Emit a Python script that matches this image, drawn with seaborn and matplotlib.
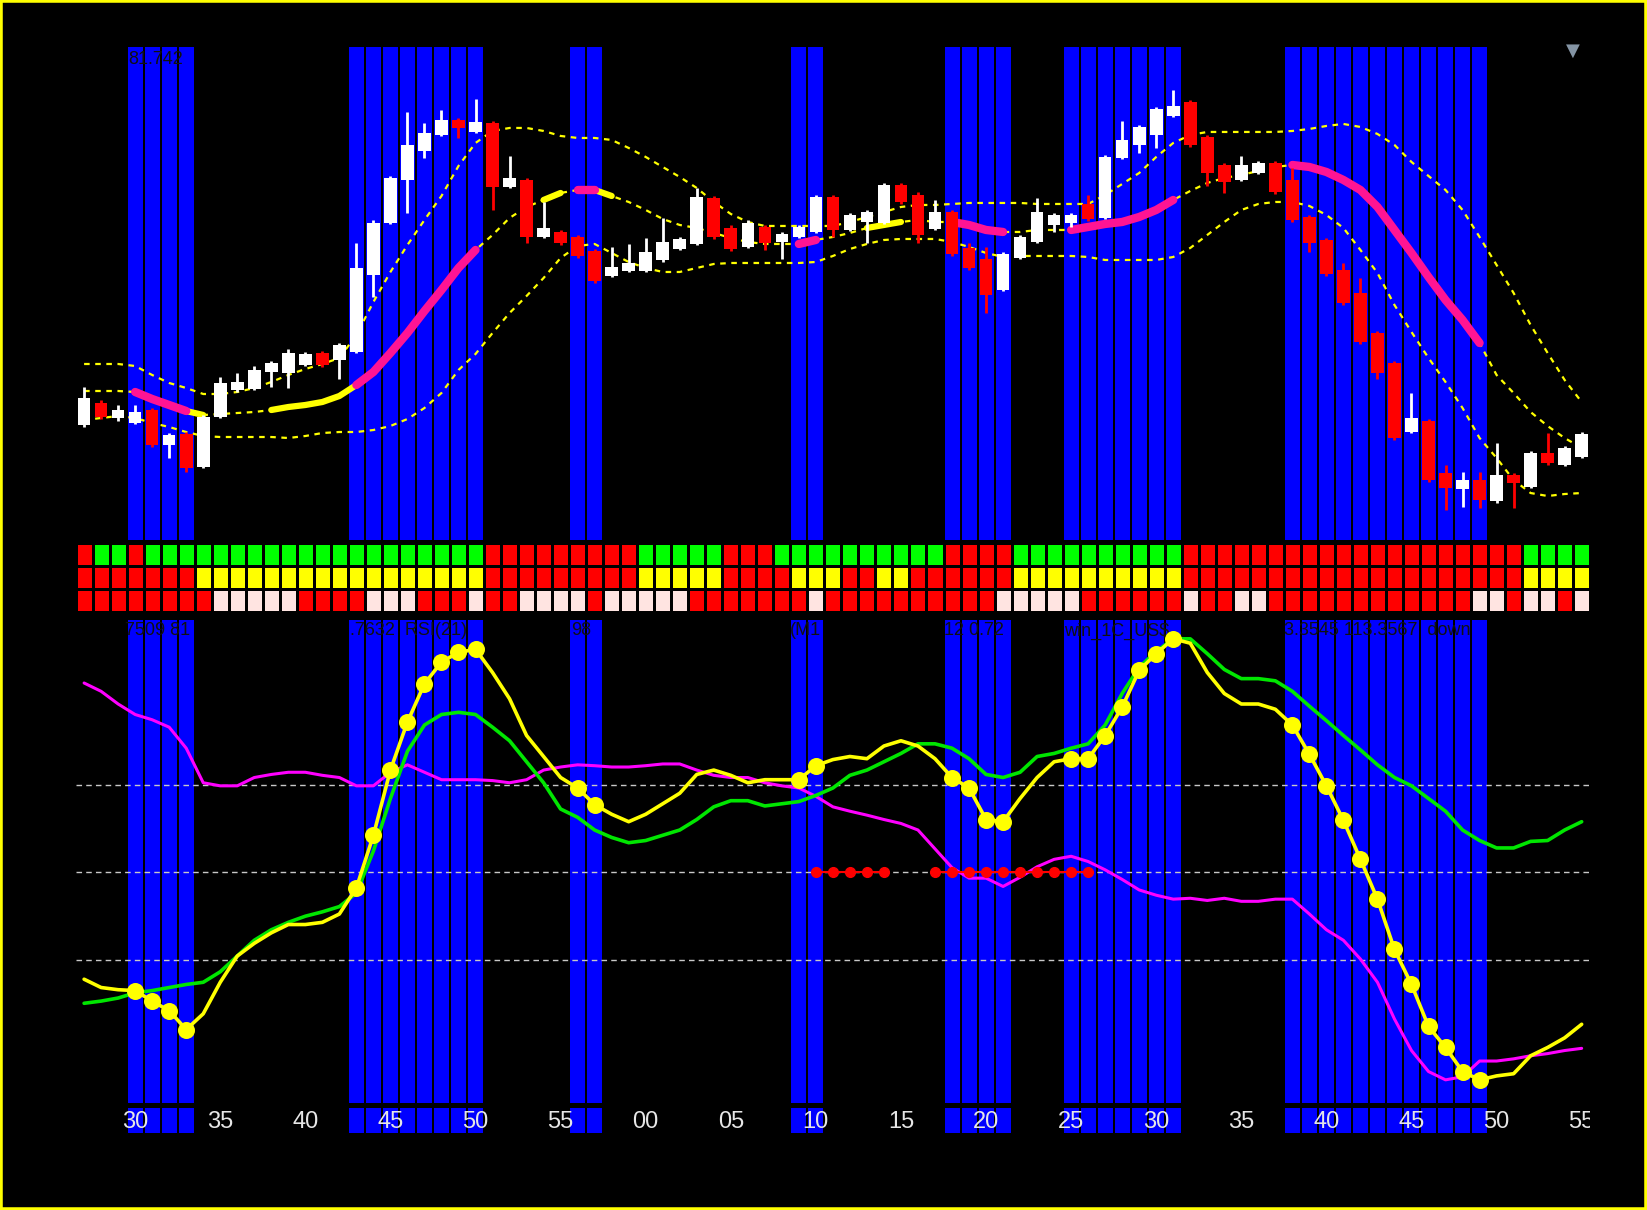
import numpy as np
import pandas as pd
import matplotlib
matplotlib.use("Agg")
import matplotlib.pyplot as plt
from matplotlib.colors import ListedColormap
from matplotlib.patches import Rectangle
import seaborn as sns

sns.set_theme(style="dark")
plt.rcParams["font.family"] = ["Liberation Sans", "DejaVu Sans"]

# ---- M1 bars, :27 to :55 two hours later ----
time_labels = ["30", "35", "40", "45", "50", "55", "00", "05", "10",
               "15", "20", "25", "30", "35", "40", "45", "50", "55"]
label_bars = [3, 8, 13, 18, 23, 28, 33, 38, 43, 48, 53, 58, 63, 68, 73, 78, 83, 88]

open_p = [81.375, 81.397, 81.382, 81.377, 81.390, 81.355, 81.366, 81.333, 81.383, 81.410,
          81.411, 81.428, 81.427, 81.435, 81.447, 81.440, 81.448, 81.525, 81.577, 81.620,
          81.649, 81.665, 81.680, 81.668, 81.677, 81.613, 81.620, 81.563, 81.568, 81.563,
          81.549, 81.524, 81.529, 81.529, 81.540, 81.551, 81.556, 81.602, 81.572, 81.553,
          81.573, 81.558, 81.563, 81.568, 81.603, 81.570, 81.578, 81.577, 81.615, 81.605,
          81.571, 81.588, 81.552, 81.541, 81.510, 81.542, 81.558, 81.575, 81.577, 81.596,
          81.582, 81.642, 81.655, 81.665, 81.684, 81.698, 81.663, 81.635, 81.620, 81.627,
          81.637, 81.620, 81.583, 81.560, 81.530, 81.507, 81.467, 81.437, 81.368, 81.379,
          81.327, 81.311, 81.320, 81.299, 81.325, 81.313, 81.347, 81.335, 81.343]
high_p = [81.413, 81.400, 81.395, 81.395, 81.392, 81.367, 81.368, 81.385, 81.423, 81.427,
          81.434, 81.439, 81.451, 81.448, 81.449, 81.457, 81.557, 81.580, 81.624, 81.688,
          81.677, 81.690, 81.682, 81.701, 81.679, 81.644, 81.622, 81.598, 81.570, 81.565,
          81.551, 81.553, 81.556, 81.562, 81.582, 81.563, 81.612, 81.604, 81.575, 81.580,
          81.575, 81.568, 81.575, 81.605, 81.605, 81.587, 81.590, 81.617, 81.617, 81.608,
          81.600, 81.590, 81.557, 81.553, 81.548, 81.565, 81.602, 81.587, 81.587, 81.605,
          81.645, 81.679, 81.675, 81.693, 81.710, 81.700, 81.665, 81.637, 81.644, 81.639,
          81.639, 81.632, 81.585, 81.562, 81.537, 81.522, 81.469, 81.439, 81.407, 81.381,
          81.335, 81.328, 81.328, 81.357, 81.327, 81.349, 81.367, 81.354, 81.368]
low_p = [81.373, 81.381, 81.379, 81.376, 81.353, 81.342, 81.328, 81.332, 81.382, 81.408,
         81.410, 81.413, 81.412, 81.434, 81.433, 81.421, 81.447, 81.503, 81.576, 81.587,
         81.642, 81.664, 81.662, 81.667, 81.590, 81.612, 81.557, 81.562, 81.555, 81.542,
         81.517, 81.523, 81.528, 81.528, 81.538, 81.550, 81.555, 81.561, 81.549, 81.552,
         81.550, 81.541, 81.562, 81.567, 81.563, 81.569, 81.557, 81.576, 81.596, 81.557,
         81.570, 81.544, 81.530, 81.487, 81.509, 81.541, 81.557, 81.568, 81.573, 81.579,
         81.581, 81.641, 81.647, 81.652, 81.683, 81.653, 81.614, 81.607, 81.619, 81.626,
         81.606, 81.578, 81.548, 81.524, 81.495, 81.456, 81.421, 81.360, 81.367, 81.318,
         81.290, 81.293, 81.292, 81.297, 81.292, 81.312, 81.335, 81.334, 81.342]
close_p = [81.402, 81.383, 81.390, 81.388, 81.355, 81.365, 81.332, 81.383, 81.417, 81.418,
           81.430, 81.437, 81.447, 81.446, 81.435, 81.455, 81.532, 81.577, 81.622, 81.655,
           81.667, 81.680, 81.672, 81.678, 81.613, 81.622, 81.563, 81.572, 81.557, 81.544,
           81.519, 81.533, 81.537, 81.548, 81.558, 81.561, 81.603, 81.563, 81.551, 81.577,
           81.557, 81.566, 81.573, 81.603, 81.570, 81.585, 81.588, 81.615, 81.598, 81.565,
           81.588, 81.546, 81.532, 81.505, 81.546, 81.563, 81.588, 81.585, 81.585, 81.581,
           81.643, 81.660, 81.673, 81.691, 81.694, 81.655, 81.627, 81.618, 81.635, 81.637,
           81.608, 81.580, 81.557, 81.526, 81.497, 81.458, 81.427, 81.362, 81.382, 81.320,
           81.312, 81.320, 81.300, 81.325, 81.317, 81.347, 81.337, 81.352, 81.366]

band_upper = [81.436, 81.436, 81.436, 81.434, 81.425, 81.417, 81.412, 81.406, 81.406, 81.408,
              81.412, 81.418, 81.425, 81.431, 81.436, 81.442, 81.465, 81.498, 81.528, 81.555,
              81.580, 81.604, 81.634, 81.657, 81.669, 81.672, 81.672, 81.669, 81.664, 81.662,
              81.662, 81.660, 81.652, 81.643, 81.633, 81.623, 81.612, 81.598, 81.586, 81.578,
              81.574, 81.574, 81.574, 81.574, 81.574, 81.578, 81.583, 81.588, 81.593, 81.595,
              81.595, 81.596, 81.597, 81.597, 81.597, 81.597, 81.596, 81.596, 81.596, 81.596,
              81.605, 81.616, 81.627, 81.643, 81.657, 81.665, 81.668, 81.668, 81.668, 81.668,
              81.668, 81.669, 81.671, 81.674, 81.676, 81.673, 81.666, 81.655, 81.638, 81.624,
              81.610, 81.590, 81.563, 81.535, 81.507, 81.475, 81.447, 81.420, 81.398]
band_mid = [81.409, 81.409, 81.409, 81.408, 81.401, 81.395, 81.389, 81.385, 81.386, 81.387,
            81.388, 81.390, 81.393, 81.395, 81.398, 81.404, 81.415, 81.428, 81.447, 81.467,
            81.489, 81.510, 81.532, 81.550, 81.565, 81.582, 81.593, 81.600, 81.607, 81.610,
            81.610, 81.604, 81.598, 81.590, 81.581, 81.575, 81.572, 81.567, 81.562, 81.558,
            81.556, 81.556, 81.556, 81.560, 81.563, 81.567, 81.572, 81.575, 81.578, 81.580,
            81.578, 81.578, 81.575, 81.570, 81.568, 81.568, 81.570, 81.570, 81.570, 81.573,
            81.576, 81.578, 81.583, 81.590, 81.600, 81.609, 81.617, 81.622, 81.625, 81.629,
            81.633, 81.635, 81.633, 81.628, 81.620, 81.610, 81.593, 81.570, 81.547, 81.523,
            81.500, 81.480, 81.457, 81.425, 81.407, 81.388, 81.374, 81.362, 81.352]
band_lower = [81.380, 81.382, 81.384, 81.382, 81.377, 81.373, 81.368, 81.364, 81.363, 81.363,
              81.363, 81.363, 81.362, 81.364, 81.367, 81.368, 81.368, 81.370, 81.374, 81.381,
              81.392, 81.407, 81.430, 81.446, 81.467, 81.487, 81.504, 81.522, 81.542, 81.554,
              81.556, 81.547, 81.538, 81.532, 81.528, 81.528, 81.532, 81.536, 81.537, 81.537,
              81.537, 81.537, 81.537, 81.538, 81.544, 81.551, 81.556, 81.560, 81.561, 81.561,
              81.561, 81.558, 81.553, 81.547, 81.543, 81.544, 81.544, 81.544, 81.544, 81.543,
              81.540, 81.540, 81.540, 81.540, 81.543, 81.552, 81.565, 81.578, 81.590, 81.596,
              81.598, 81.598, 81.594, 81.585, 81.572, 81.550, 81.527, 81.495, 81.468, 81.442,
              81.418, 81.392, 81.362, 81.342, 81.320, 81.307, 81.304, 81.306, 81.307]

# bars highlighted blue (inclusive runs)
blue_runs = [(3, 6), (16, 23), (29, 30), (42, 43), (51, 54), (58, 64), (71, 82)]
# middle line drawn thick yellow on these runs
flat_runs = [(6, 7), (11, 16), (27, 28), (30, 31), (46, 48)]

# signal rows as run lengths: R red, G green, Y yellow, W pale
row_trend = [("R", 1), ("G", 2), ("R", 1), ("G", 20), ("R", 9), ("G", 5), ("R", 3),
             ("G", 10), ("R", 4), ("G", 10), ("R", 20), ("G", 4)]
row_mom = [("R", 7), ("Y", 17), ("R", 9), ("Y", 5), ("R", 4), ("Y", 3), ("R", 2),
           ("Y", 2), ("R", 6), ("Y", 10), ("R", 20), ("Y", 4)]
row_vol = [("R", 8), ("W", 5), ("R", 4), ("W", 3), ("R", 3), ("W", 1), ("R", 2), ("W", 4),
           ("R", 1), ("W", 5), ("R", 7), ("W", 1), ("R", 10), ("W", 5), ("R", 6), ("W", 1),
           ("R", 2), ("W", 2), ("R", 12), ("W", 2), ("R", 1), ("W", 2), ("R", 1), ("W", 1)]

# oscillator panel
osc_fast = [25.5, 23.6, 23.1, 22.9, 20.5, 18.3, 14.0, 17.6, 24.8, 30.8,
            33.7, 36.1, 38.0, 38.0, 38.5, 40.4, 46.4, 58.4, 73.3, 84.3,
            93.0, 98.0, 100.2, 100.9, 95.6, 89.6, 81.2, 76.4, 71.6, 69.2,
            65.4, 63.2, 61.5, 63.2, 65.6, 68.0, 72.3, 73.3, 72.1, 70.4,
            71.1, 71.1, 71.1, 74.3, 75.7, 76.4, 75.9, 78.8, 80.0, 78.8,
            75.9, 71.6, 69.2, 62.0, 61.5, 66.8, 71.6, 75.2, 75.9, 75.9,
            81.2, 87.7, 96.1, 99.9, 103.3, 102.3, 95.6, 90.8, 88.4, 88.4,
            87.2, 83.6, 76.9, 69.7, 61.8, 52.9, 43.8, 32.3, 24.3, 14.7,
            9.9, 4.4, 2.5, 3.4, 3.9, 8.0, 9.9, 12.1, 15.2]
osc_slow = [20.0, 20.5, 21.2, 22.4, 22.9, 23.6, 24.3, 24.8, 27.2, 30.8,
            34.4, 36.8, 38.5, 39.9, 40.9, 42.1, 45.2, 54.8, 66.8, 77.6,
            83.6, 86.0, 86.5, 86.0, 83.1, 80.0, 75.2, 70.4, 64.4, 62.5,
            59.6, 57.9, 56.7, 57.2, 58.4, 59.6, 62.0, 64.9, 66.3, 66.3,
            65.1, 65.6, 66.1, 67.5, 69.2, 72.1, 73.3, 75.2, 77.1, 79.3,
            79.3, 78.3, 75.9, 72.3, 71.6, 72.8, 76.4, 77.1, 78.3, 79.3,
            83.6, 90.8, 96.8, 100.4, 103.3, 103.3, 99.9, 96.3, 94.2, 94.2,
            93.7, 91.3, 87.9, 84.6, 81.2, 77.9, 74.5, 71.6, 69.7, 66.8,
            63.9, 59.6, 57.2, 55.5, 55.5, 57.0, 57.2, 59.6, 61.5]
osc_ref = [93.2, 91.3, 88.4, 86.0, 84.8, 83.1, 78.3, 70.4, 69.7, 69.7,
           71.6, 72.3, 72.8, 72.8, 72.1, 71.6, 69.7, 69.7, 72.8, 74.5,
           72.8, 71.1, 71.1, 71.1, 70.9, 70.4, 71.1, 73.3, 74.0, 74.5,
           74.3, 74.0, 74.0, 74.3, 74.7, 74.7, 73.3, 72.1, 71.6, 71.6,
           70.4, 69.7, 69.2, 67.3, 64.9, 63.9, 63.0, 62.0, 61.1, 59.6,
           55.3, 51.0, 48.6, 48.6, 46.7, 48.8, 51.2, 52.9, 53.6, 52.4,
           50.5, 48.3, 45.9, 44.7, 43.8, 44.0, 43.5, 44.0, 43.3, 43.3,
           43.8, 43.8, 40.4, 36.8, 34.4, 30.1, 24.8, 16.4, 9.2, 4.4,
           2.5, 3.2, 6.8, 6.8, 7.3, 8.0, 8.5, 9.2, 9.7]
levels = [70, 50, 30]
cross_level = 50
cross_runs = [(43, 47), (50, 59)]

osc_text = [(2.4, "7509 81"), (15.6, ".7632  RSI(21)"), (28.6, "98"), (41.5, "(M1"),
            (50.5, "12 0.72"), (57.6, "win_1C_US$"), (70.5, "3.3545 113.3567  down")]

# ---- drawing ----
n = len(open_p)
bars = np.arange(n)
blue = [i for a, b in blue_runs for i in range(a, b + 1)]
BLUE = "#0000FF"

fig = plt.figure(figsize=(16.47, 12.10), dpi=100, facecolor="black")
L, W = 0.0459, 0.9196
ax_p = fig.add_axes([L, 0.5537, W, 0.4075])
ax_g = fig.add_axes([L, 0.4942, W, 0.0570])
ax_o = fig.add_axes([L, 0.0884, W, 0.3992])
ax_t = fig.add_axes([L, 0.0636, W, 0.0207])

for ax in (ax_p, ax_o, ax_t):
    ax.set_xlim(-0.5, n - 0.5)
    for i in blue:
        ax.axvspan(i - 0.44, i + 0.44, color=BLUE, lw=0, zorder=0)

# price panel
op, cl = np.array(open_p), np.array(close_p)
colors = np.where(cl >= op, "white", "#FF0000")
body_h = np.maximum(np.abs(cl - op), 0.007)
body_lo = (op + cl) / 2 - body_h / 2
mid = np.array(band_mid)
for band in (band_upper, band_mid, band_lower):
    sns.lineplot(x=bars, y=band, ax=ax_p, color="#FFFF00", lw=1.6,
                 linestyle=(0, (2.5, 2.5)), estimator=None, zorder=2)
for a, b in flat_runs:
    ax_p.plot(bars[a:b + 1], mid[a:b + 1], color="#FFFF00", lw=4.5,
              solid_capstyle="round", zorder=2.5)
for a, b in blue_runs:
    ax_p.plot(bars[a:b + 1], mid[a:b + 1], color="#FF1493", lw=6,
              solid_capstyle="round", zorder=2.6)
ax_p.vlines(bars, low_p, high_p, colors=colors, lw=2, zorder=3)
ax_p.bar(bars, body_h, bottom=body_lo, width=0.74, color=colors, lw=0, zorder=4)
ax_p.set_ylim(81.260, 81.753)
ax_p.text(2.6, 0.975, "81.742", transform=ax_p.get_xaxis_transform(),
          color="#111111", fontsize=13, va="center", ha="left")
ax_p.text(87.5, 0.992, "\u25bc", transform=ax_p.get_xaxis_transform(),
          color="#8494A4", fontsize=13, ha="center", va="center",
          family=["DejaVu Sans"])

# signal grid
code = {"R": 0, "G": 1, "Y": 2, "W": 3}
rows = [[code[c] for c, k in row for _ in range(k)] for row in (row_trend, row_mom, row_vol)]
grid = pd.DataFrame(rows)
sns.heatmap(grid, ax=ax_g, cmap=ListedColormap(["#FF0000", "#00FF00", "#FFFF00", "#FFE4E1"]),
            vmin=-0.5, vmax=3.5, cbar=False, linewidths=2, linecolor="black",
            xticklabels=False, yticklabels=False)

# oscillator panel
ax_o.set_ylim(-2.8, 107.6)
for lv in levels:
    ax_o.axhline(lv, color="#C8C8C8", lw=1, ls=(0, (4, 3)), zorder=1)
sns.lineplot(x=bars, y=osc_ref, ax=ax_o, color="#FF00FF", lw=2.2, estimator=None, zorder=2)
sns.lineplot(x=bars, y=osc_slow, ax=ax_o, color="#00E600", lw=2.6, estimator=None, zorder=3)
sns.lineplot(x=bars, y=osc_fast, ax=ax_o, color="#FFFF00", lw=2.6, estimator=None, zorder=4)
sns.scatterplot(x=blue, y=[osc_fast[i] for i in blue], ax=ax_o, color="#FFFF00",
                s=150, linewidth=0, zorder=5)
for a, b in cross_runs:
    ax_o.plot(bars[a:b + 1], [cross_level] * (b - a + 1), color="#FF0000", lw=1.5,
              marker="o", ms=7, zorder=4.5)
for x, s in osc_text:
    ax_o.text(x, 0.995, s, transform=ax_o.get_xaxis_transform(), color="#111111",
              fontsize=13, ha="left", va="top")

# time strip
ax_t.set_ylim(0, 1)
for b, lab in zip(label_bars, time_labels):
    ax_t.text(b, 0.45, lab, ha="center", va="center", color="#E6E6E6",
              fontsize=17, clip_on=True)

for ax in (ax_p, ax_g, ax_o, ax_t):
    ax.set_axis_off()

fig.add_artist(Rectangle((0, 0), 1, 1, transform=fig.transFigure, fill=False,
                         edgecolor="#FFFF00", lw=4))

fig.savefig("out.png", dpi=100, facecolor="black")
